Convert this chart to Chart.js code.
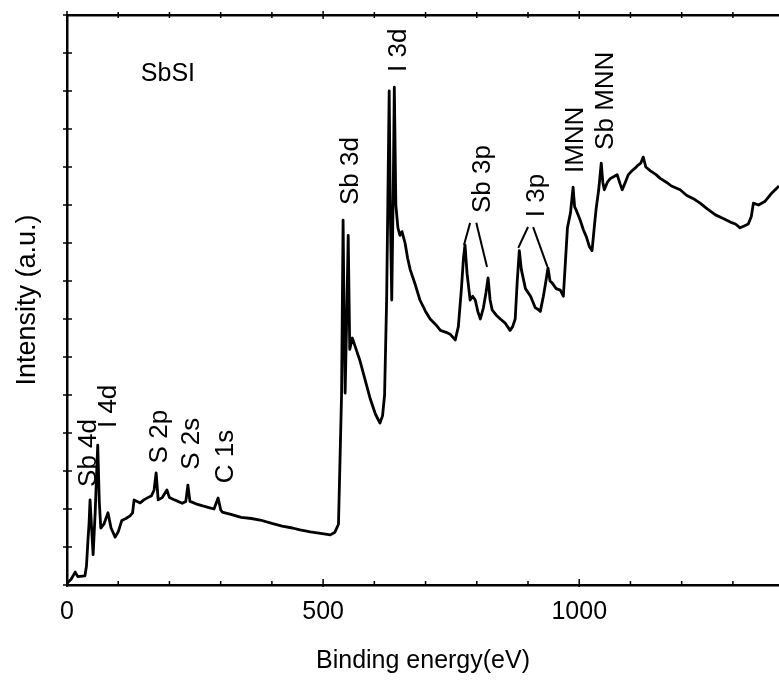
<!DOCTYPE html>
<html>
<head>
<meta charset="utf-8">
<script src="https://cdn.jsdelivr.net/npm/chart.js@4.4.1/dist/chart.umd.min.js"></script>
<style>
  body { margin: 0; background: #fff; }
  #wrap { width: 779px; height: 686px; }
</style>
</head>
<body>
<div id="wrap"><canvas id="xpsChart" width="779" height="686"></canvas></div>
<script>
// survey spectrum (binding energy in eV, intensity in arbitrary units)
const energy = [
  0, 8, 16, 21, 35, 38, 41, 43, 45, 48, 51, 55, 58, 60, 63, 66, 72, 80, 86, 94,
  100, 107, 115, 123, 128, 131, 137, 143, 150, 158, 165, 170, 174, 178, 186, 195, 200, 208, 217, 225,
  232, 236, 240, 244, 255, 265, 279, 287, 295, 300, 303, 320, 340, 360, 377, 400, 420, 440, 455, 475,
  495, 514, 523, 530, 536, 539, 541, 543, 546, 549, 552, 557, 562, 572, 582, 592, 602, 611, 616, 620,
  624, 629, 631, 634, 637, 639, 642, 646, 650, 654, 660, 665, 670, 680, 689, 700, 709, 720, 729, 740,
  748, 758, 764, 770, 774, 777, 781, 787, 792, 797, 802, 807, 813, 818, 822, 826, 830, 838, 846, 855,
  865, 870, 875, 879, 883, 887, 895, 905, 914, 920, 924, 930, 935, 939, 943, 947, 955, 963, 969, 973,
  977, 983, 988, 991, 994, 1002, 1008, 1014, 1020, 1025, 1030, 1033, 1038, 1043, 1046, 1049, 1055, 1061, 1068, 1074,
  1080, 1084, 1090, 1096, 1103, 1109, 1115, 1120, 1125, 1130, 1139, 1150, 1158, 1170, 1180, 1197, 1210, 1225, 1236, 1250,
  1266, 1280, 1295, 1305, 1314, 1322, 1330, 1336, 1340, 1350, 1363, 1375, 1390
];
const intensity = [
  0.05, 0.15, 0.34, 0.22, 0.24, 0.5, 1.2, 1.6, 2.24, 1.5, 0.8, 1.9, 3.0, 3.68, 2.2, 1.5, 1.6, 1.9, 1.5, 1.26,
  1.4, 1.7, 1.75, 1.82, 1.9, 2.24, 2.2, 2.16, 2.24, 2.3, 2.35, 2.5, 2.95, 2.24, 2.3, 2.5, 2.3, 2.25, 2.2, 2.15,
  2.2, 2.63, 2.2, 2.18, 2.12, 2.08, 2.03, 2.0, 2.29, 1.98, 1.92, 1.86, 1.78, 1.75, 1.71, 1.62, 1.55, 1.5, 1.45, 1.4,
  1.36, 1.32, 1.39, 1.6, 5.0, 9.6, 7.0, 5.05, 7.0, 9.2, 6.2, 6.5, 6.3, 5.9, 5.4, 4.9, 4.5, 4.26, 4.45, 5.0,
  7.5, 13.0, 10.0, 7.5, 10.5, 13.1, 10.0, 9.4, 9.2, 9.3, 9.0, 8.6, 8.3, 7.9, 7.5, 7.2, 7.0, 6.85, 6.7, 6.65,
  6.6, 6.45, 6.8, 7.8, 8.6, 8.95, 8.2, 7.5, 7.6, 7.5, 7.2, 7.0, 7.3, 7.7, 8.08, 7.5, 7.24, 7.1, 7.0, 6.9,
  6.7, 6.8, 7.0, 8.0, 8.8, 8.3, 7.8, 7.6, 7.3, 7.25, 7.2, 7.6, 8.0, 8.34, 8.0, 7.95, 7.8, 7.76, 7.6, 8.5,
  9.4, 9.8, 10.47, 9.95, 9.87, 9.6, 9.35, 9.16, 8.9, 8.8, 9.5, 9.9, 10.4, 11.1, 10.6, 10.4, 10.6, 10.7, 10.75, 10.8,
  10.55, 10.4, 10.6, 10.8, 10.9, 10.97, 11.05, 11.1, 11.26, 11.0, 10.9, 10.8, 10.7, 10.6, 10.5, 10.4, 10.25, 10.15, 10.05, 9.9,
  9.74, 9.65, 9.55, 9.5, 9.4, 9.45, 9.5, 9.7, 10.05, 10.0, 10.1, 10.3, 10.5
];

const xTickValues = [0, 500, 1000];

// peak names, the energy they sit over and the intensity where the text starts
const peakLabels = ["Sb 4d", "I 4d", "S 2p", "S 2s", "C 1s", "Sb 3d", "I 3d", "Sb 3p", "I 3p", "IMNN", "Sb MNN"];
const peakLabelEnergy = [41, 80, 180, 242, 309, 553, 645, 809, 916, 992, 1049];
const peakLabelBase = [2.58, 4.13, 3.2, 3.03, 2.68, 10.0, 13.5, 9.79, 9.68, 10.84, 11.45];

// leader lines under Sb 3p and I 3p: [e1, i1, e2, i2]
const leaderLines = [
  [787, 9.53, 775, 8.95],
  [799, 9.53, 820, 8.37],
  [900, 9.42, 881, 8.87],
  [910, 9.42, 938, 8.37]
];

const sampleName = "SbSI";
const sampleAt = [197, 13.45];

const FONT = "'Liberation Sans', Arial, sans-serif";

const annotations = {
  id: "annotations",
  afterDatasetsDraw(chart) {
    const ctx = chart.ctx;
    const xs = chart.scales.x;
    const ys = chart.scales.y;
    ctx.save();
    ctx.fillStyle = "#000";
    ctx.strokeStyle = "#000";
    ctx.font = "26px " + FONT;
    ctx.textAlign = "left";
    ctx.textBaseline = "middle";
    peakLabels.forEach((txt, i) => {
      ctx.save();
      ctx.translate(xs.getPixelForValue(peakLabelEnergy[i]), ys.getPixelForValue(peakLabelBase[i]));
      ctx.rotate(-Math.PI / 2);
      ctx.fillText(txt, 0, 1);
      ctx.restore();
    });
    ctx.lineWidth = 2;
    leaderLines.forEach((l) => {
      ctx.beginPath();
      ctx.moveTo(xs.getPixelForValue(l[0]), ys.getPixelForValue(l[1]));
      ctx.lineTo(xs.getPixelForValue(l[2]), ys.getPixelForValue(l[3]));
      ctx.stroke();
    });
    ctx.font = "25px " + FONT;
    ctx.textAlign = "center";
    ctx.fillText(sampleName, xs.getPixelForValue(sampleAt[0]), ys.getPixelForValue(sampleAt[1]));

    // small tick marks on the frame
    const area = chart.chartArea;
    ctx.lineWidth = 1.5;
    for (let v = 0; v <= xs.max; v += 100) {
      const x = xs.getPixelForValue(v);
      const big = v % 500 === 0 ? 2 : 0;
      ctx.beginPath();
      ctx.moveTo(x, area.bottom - 4 - big);
      ctx.lineTo(x, area.bottom + 1 + big / 2);
      ctx.moveTo(x, area.top - 3 - big / 2);
      ctx.lineTo(x, area.top + 3 + big / 2);
      ctx.stroke();
    }
    for (let v = 0; v <= ys.max; v += 1) {
      const y = ys.getPixelForValue(v);
      ctx.beginPath();
      ctx.moveTo(area.left - 4, y);
      ctx.lineTo(area.left + 5, y);
      ctx.stroke();
    }
    ctx.restore();
  }
};

const ctx = document.getElementById("xpsChart").getContext("2d");
const xpsChart = new Chart(ctx, {
  type: "line",
  data: {
    datasets: [
      {
        data: energy.map((e, i) => ({ x: e, y: intensity[i] })),
        borderColor: "#000",
        borderWidth: 2.8,
        borderJoinStyle: "round",
        pointRadius: 0,
        tension: 0,
        fill: false
      }
    ]
  },
  options: {
    responsive: false,
    devicePixelRatio: 1,
    animation: false,
    events: [],
    layout: { padding: 0 },
    plugins: {
      legend: { display: false },
      tooltip: { enabled: false }
    },
    scales: {
      x: {
        type: "linear",
        position: "bottom",
        min: 0,
        max: 1390,
        afterBuildTicks: (scale) => {
          scale.ticks = xTickValues.map((v) => ({ value: v }));
        },
        afterFit: (scale) => {
          scale.height = 101;
        },
        ticks: {
          color: "#000",
          font: { family: FONT, size: 25 },
          padding: 12,
          maxRotation: 0,
          callback: (v) => String(v)
        },
        grid: { display: false, drawTicks: false },
        border: { display: true, color: "#000", width: 2.5 },
        title: {
          display: true,
          text: "Binding energy(eV)",
          color: "#000",
          font: { family: FONT, size: 25 },
          padding: { top: 0, bottom: 10 }
        }
      },
      x2: {
        type: "linear",
        position: "top",
        min: 0,
        max: 1390,
        afterFit: (scale) => {
          scale.height = 15;
        },
        ticks: { display: false },
        grid: { display: false, drawTicks: false },
        border: { display: true, color: "#000", width: 2.5 }
      },
      y: {
        min: 0,
        max: 15,
        afterFit: (scale) => {
          scale.width = 67;
        },
        ticks: { display: false, stepSize: 1 },
        grid: { display: false, drawTicks: false },
        border: { display: true, color: "#000", width: 2.5 },
        title: {
          display: true,
          text: "Intensity (a.u.)",
          color: "#000",
          font: { family: FONT, size: 27 },
          padding: { top: 11, bottom: 0 }
        }
      }
    }
  },
  plugins: [annotations]
});
</script>
</body>
</html>
